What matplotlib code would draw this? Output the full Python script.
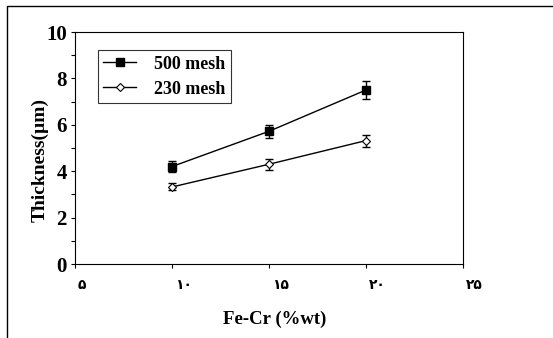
import matplotlib
matplotlib.use("Agg")
import matplotlib.pyplot as plt
import matplotlib.transforms as mtransforms
from matplotlib.lines import Line2D
from matplotlib.ticker import MultipleLocator

# data
fecr = [10, 15, 20]
mesh500 = [4.2, 5.72, 7.5]
mesh500_err = [0.23, 0.28, 0.4]
mesh230 = [3.32, 4.3, 5.32]
mesh230_err = [0.15, 0.23, 0.26]
xticks = [5, 10, 15, 20, 25]
xticklabels = ["۵", "۱۰", "۱۵", "۲۰", "۲۵"]

plt.rcParams['font.family'] = ['Liberation Serif', 'DejaVu Sans']
plt.rcParams['font.weight'] = 'bold'

fig = plt.figure(figsize=(5.53, 3.38), dpi=100)
ax = fig.add_axes([75 / 553, 1 - 264 / 338, (463 - 75) / 553, (264 - 32) / 338])

# error bars without legend entries, lines+markers with them
ax.errorbar(fecr, mesh500, yerr=mesh500_err, fmt='none', ecolor='black',
            capsize=3, elinewidth=1, capthick=1)
ax.errorbar(fecr, mesh230, yerr=mesh230_err, fmt='none', ecolor='black',
            capsize=3, elinewidth=1, capthick=1)
ax.plot(fecr, mesh500, color='black', marker='s', ms=6, lw=1, label='500 mesh')
ax.plot(fecr, mesh230, color='black', marker='D', ms=4.5, mfc='white', mew=0.8,
        lw=1, label='230 mesh')

ax.set_xlim(5, 25)
ax.set_ylim(0, 10)
ax.yaxis.set_major_locator(MultipleLocator(2))
ax.yaxis.set_minor_locator(MultipleLocator(1))
ax.tick_params(direction='out', length=3, width=0.8, labelsize=15, pad=3)
ax.tick_params(which='minor', direction='out', length=3, width=0.8)
ax.tick_params(axis='x', pad=7, labelsize=10)
ax.set_xticks(xticks)
ax.set_xticklabels(xticklabels, family=['DejaVu Sans'], fontsize=10,
                   fontweight='bold', ha='left')
offset = mtransforms.ScaledTranslation(3 / 100, 0, fig.dpi_scale_trans)
for lab in ax.get_xticklabels():
    lab.set_transform(lab.get_transform() + offset)
for lab in ax.get_yticklabels():
    lab.set_fontweight('bold')
for s in ax.spines.values():
    s.set_linewidth(0.8)

ax.set_xlabel('Fe-Cr (%wt)', fontsize=13.5, fontweight='bold')
ax.xaxis.set_label_coords(0.515, -0.2)
ax.set_ylabel('Thickness(µm)', fontsize=14, fontweight='bold')
ax.yaxis.set_label_coords(-0.068, 0.45)

leg = ax.legend(loc='upper left', bbox_to_anchor=(0.059, 0.922), fontsize=13,
                frameon=True, fancybox=False, edgecolor='black', handlelength=1.8,
                borderpad=0.3, labelspacing=0.45, handletextpad=1.0,
                borderaxespad=0)
leg.get_frame().set_linewidth(0.8)
for t in leg.get_texts():
    t.set_fontweight('bold')

# outer frame (top and left edges only)
fig.add_artist(Line2D([7 / 553, 7 / 553, 1], [0, 1 - 6 / 338, 1 - 6 / 338],
                      color='black', lw=1))

fig.savefig('out.png', dpi=100)
